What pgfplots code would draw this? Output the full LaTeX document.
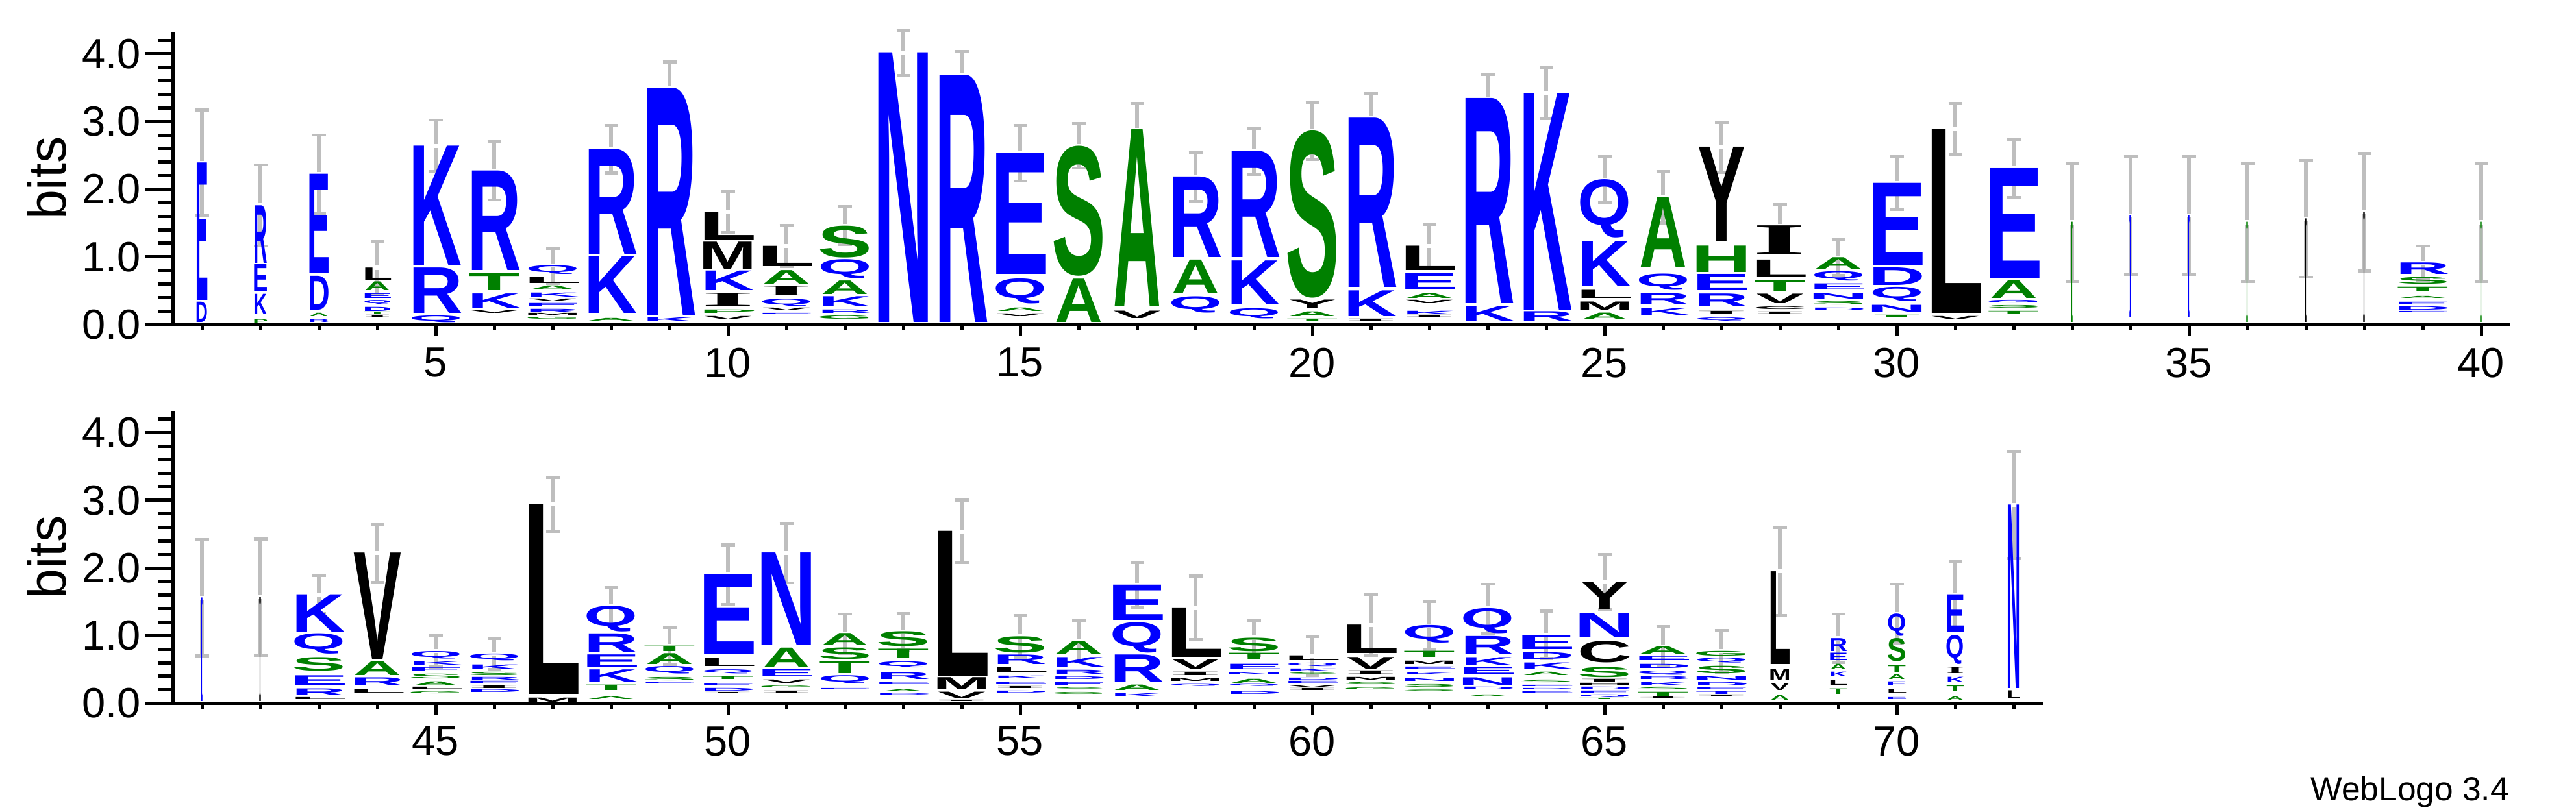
\documentclass[border=0pt]{standalone}
\usepackage{fontspec}
\setmainfont{Liberation Sans}
\newfontfamily\lf{Liberation Sans}
\newfontfamily\lfs{Liberation Serif}
\usepackage{graphicx}
\usepackage{pgfplots}
\usepackage{pgfplotstable}
\pgfplotsset{compat=1.18}
\definecolor{lblue}{RGB}{0,0,255}
\definecolor{lgreen}{RGB}{0,128,0}
\definecolor{lblack}{RGB}{0,0,0}
\definecolor{errgray}{RGB}{190,190,190}
\newdimen\bitunit \bitunit=20.86pt
\newdimen\lw
% width factor per letter (so that the ink, not the advance width, fills the column)
\def\lfA{0.90}\def\lfC{1.02}\def\lfD{1.07}\def\lfE{1.11}\def\lfG{1.05}\def\lfH{1.14}
\def\lfI{1.00}\def\lfK{1.00}\def\lfL{1.10}\def\lfM{1.08}\def\lfN{1.14}\def\lfP{1.10}
\def\lfQ{1.01}\def\lfR{1.02}\def\lfS{1.02}\def\lfT{0.97}\def\lfV{0.90}\def\lfY{0.90}
\def\splitmeta#1/#2/#3\relax{%
  \lw=\csname lf#1\endcsname\dimexpr #3pt\relax
  \resizebox*{\lw}{#2\bitunit}{\if I#1\lfs\else\lf\fi\bfseries #1}}
\newcommand\mkmeta[1]{\pgfplotstablecreatecol[create col/assign/.code={%
    \getthisrow{l}\ml \getthisrow{h}\mh \getthisrow{w}\mw
    \edef\entry{\ml/\mh/\mw}%
    \pgfkeyslet{/pgfplots/table/create col/next content}\entry}]{s}#1}

% x = position, y = bottom of letter (bits), h = letter height (bits), w = column width (pt), l = letter
\pgfplotstableread{
x y h w l
1 0.03 0.30 3.5 D
1 0.36 2.03 3.5 E
2 0.15 0.30 4.2 K
2 0.48 0.41 4.2 E
2 0.91 0.85 4.2 R
3 0.03 0.04 6.3 R
3 0.22 0.50 6.3 D
3 0.75 1.47 6.3 E
4 0.20 0.06 8.6 D
4 0.30 0.06 8.6 Q
4 0.39 0.07 8.6 E
5 0.03 0.10 16.4 Q
5 0.17 0.67 16.4 R
5 0.87 1.77 16.4 K
6 0.24 0.21 16.4 K
6 0.80 1.47 16.4 R
7 0.18 0.05 16.4 R
7 0.26 0.05 16.4 E
7 0.41 0.06 16.4 K
7 0.74 0.13 16.4 Q
8 0.17 0.84 16.4 K
8 1.04 1.55 16.4 R
9 0.04 0.06 16.4 K
9 0.14 3.35 16.4 R
10 0.50 0.29 16.4 K
11 0.13 0.02 16.4 E
11 0.27 0.11 16.4 Q
12 0.17 0.05 16.4 R
12 0.26 0.15 16.4 K
12 0.68 0.28 16.4 Q
13 0.03 3.98 16.4 N
14 0.03 3.65 16.4 R
15 0.31 0.37 16.4 Q
15 0.74 1.79 16.4 E
18 0.17 0.24 16.4 Q
18 0.99 1.19 16.4 R
19 0.09 0.15 16.4 Q
19 0.29 0.65 16.4 K
19 0.99 1.57 16.4 R
21 0.12 0.38 16.4 K
21 0.55 2.50 16.4 R
22 0.15 0.05 16.4 K
22 0.51 0.24 16.4 E
23 0.05 0.22 16.4 K
23 0.31 3.03 16.4 R
24 0.05 0.14 16.4 R
24 0.22 3.20 16.4 K
25 0.57 0.66 16.4 K
25 1.28 0.86 16.4 Q
26 0.14 0.10 16.4 K
26 0.29 0.17 16.4 R
26 0.51 0.24 16.4 Q
27 0.05 0.05 16.4 Q
27 0.26 0.19 16.4 R
27 0.50 0.24 16.4 E
29 0.20 0.04 16.4 D
29 0.38 0.08 16.4 N
29 0.51 0.09 16.4 E
29 0.65 0.14 16.4 Q
30 0.19 0.10 16.4 N
30 0.34 0.21 16.4 Q
30 0.58 0.26 16.4 D
30 0.87 1.22 16.4 E
32 0.32 0.04 16.4 G
32 0.68 1.63 16.4 E
34 0.10 1.51 0.6 I
35 0.10 1.51 0.6 I
39 0.16 0.02 16.4 E
39 0.22 0.05 16.4 D
39 0.29 0.04 16.4 E
39 0.74 0.17 16.4 R
41 0.03 1.53 0.6 I
43 0.12 0.10 16.4 R
43 0.27 0.14 16.4 E
43 0.73 0.30 16.4 Q
43 1.06 0.55 16.4 K
44 0.26 0.12 16.4 R
45 0.47 0.06 16.4 E
45 0.57 0.05 16.4 K
45 0.66 0.11 16.4 Q
46 0.16 0.04 16.4 D
46 0.28 0.04 16.4 E
46 0.34 0.04 16.4 R
46 0.50 0.07 16.4 K
46 0.63 0.10 16.4 Q
48 0.32 0.18 16.4 K
48 0.53 0.19 16.4 E
48 0.75 0.28 16.4 R
48 1.06 0.38 16.4 Q
49 0.27 0.02 16.4 E
49 0.44 0.11 16.4 Q
50 0.18 0.04 16.4 D
50 0.25 0.03 16.4 E
50 0.44 0.06 16.4 Q
50 0.72 1.18 16.4 E
51 0.39 0.11 16.4 E
51 0.85 1.37 16.4 N
52 0.19 0.02 16.4 E
52 0.29 0.12 16.4 Q
53 0.11 0.02 16.4 D
53 0.27 0.03 16.4 E
53 0.36 0.10 16.4 R
53 0.53 0.09 16.4 Q
55 0.15 0.03 16.4 D
55 0.27 0.03 16.4 E
55 0.36 0.04 16.4 K
55 0.58 0.14 16.4 R
56 0.26 0.05 16.4 E
56 0.35 0.04 16.4 D
56 0.43 0.06 16.4 R
56 0.54 0.14 16.4 K
57 0.10 0.05 16.4 K
57 0.32 0.40 16.4 R
57 0.75 0.45 16.4 Q
57 1.23 0.52 16.4 E
58 0.24 0.03 16.4 Q
59 0.13 0.04 16.4 D
59 0.24 0.03 16.4 Q
59 0.41 0.03 16.4 N
59 0.50 0.08 16.4 E
60 0.29 0.03 16.4 E
60 0.34 0.03 16.4 D
60 0.47 0.04 16.4 K
60 0.55 0.05 16.4 Q
62 0.32 0.04 16.4 N
62 0.41 0.03 16.4 K
62 0.50 0.03 16.4 E
62 0.89 0.26 16.4 Q
63 0.20 0.04 16.4 D
63 0.27 0.11 16.4 N
63 0.43 0.10 16.4 E
63 0.56 0.12 16.4 K
63 0.72 0.27 16.4 R
63 1.03 0.37 16.4 Q
64 0.14 0.02 16.4 E
64 0.19 0.02 16.4 D
64 0.24 0.02 16.4 E
64 0.51 0.09 16.4 K
64 0.65 0.10 16.4 D
64 0.80 0.21 16.4 E
65 0.08 0.04 16.4 Q
65 0.14 0.04 16.4 E
65 0.20 0.04 16.4 D
65 0.97 0.36 16.4 N
66 0.26 0.05 16.4 K
66 0.35 0.04 16.4 R
66 0.42 0.06 16.4 Q
66 0.52 0.06 16.4 D
66 0.63 0.06 16.4 E
67 0.13 0.04 16.4 T
67 0.19 0.03 16.4 E
67 0.26 0.05 16.4 D
67 0.35 0.05 16.4 N
67 0.60 0.07 16.4 Q
69 0.39 0.07 5.6 K
69 0.63 0.11 5.6 E
69 0.77 0.19 5.6 R
70 0.05 0.03 5.8 E
70 0.26 0.06 5.8 E
70 0.99 0.33 5.8 Q
71 0.31 0.08 5.6 K
71 0.58 0.43 5.6 Q
71 1.06 0.55 5.6 E
72 0.22 2.71 3.7 N
}\tblue

\pgfplotstableread{
x y h w l
2 0.02 0.05 4.2 P
3 0.12 0.05 6.3 A
4 0.15 0.03 8.6 T
4 0.50 0.13 8.6 A
6 0.50 0.25 16.4 T
7 0.07 0.03 16.4 G
7 0.51 0.06 16.4 A
8 0.05 0.04 16.4 A
10 0.17 0.05 16.4 P
11 0.60 0.20 16.4 A
12 0.08 0.05 16.4 G
12 0.45 0.20 16.4 A
12 0.99 0.47 16.4 S
15 0.20 0.05 16.4 A
16 0.03 0.64 16.4 A
16 0.72 1.92 16.4 S
17 0.26 2.62 16.4 A
18 0.46 0.50 16.4 A
20 0.04 0.04 16.4 T
20 0.12 0.07 16.4 A
20 0.39 2.47 16.4 S
22 0.39 0.07 16.4 A
25 0.07 0.10 16.4 A
26 0.84 1.04 16.4 A
27 0.77 0.39 16.4 H
28 0.48 0.17 16.4 T
29 0.29 0.05 16.4 S
29 0.82 0.17 16.4 A
30 0.10 0.04 16.4 I
32 0.15 0.04 16.4 T
32 0.24 0.04 16.4 S
32 0.39 0.26 16.4 A
33 0.03 1.48 0.6 I
36 0.03 1.48 0.6 I
39 0.38 0.03 16.4 A
39 0.48 0.07 16.4 T
39 0.60 0.10 16.4 S
40 0.03 1.48 0.6 I
43 0.48 0.20 16.4 S
44 0.41 0.21 16.4 A
45 0.14 0.03 16.4 G
45 0.26 0.06 16.4 A
45 0.36 0.07 16.4 S
46 0.41 0.05 16.4 S
48 0.05 0.04 16.4 A
48 0.19 0.08 16.4 T
49 0.34 0.05 16.4 S
49 0.58 0.16 16.4 A
49 0.77 0.08 16.4 T
50 0.35 0.04 16.4 T
51 0.22 0.03 16.4 G
51 0.53 0.29 16.4 A
52 0.44 0.18 16.4 T
52 0.65 0.17 16.4 S
52 0.85 0.18 16.4 A
53 0.16 0.03 16.4 A
53 0.67 0.13 16.4 T
53 0.84 0.22 16.4 S
55 0.75 0.24 16.4 S
56 0.13 0.03 16.4 G
56 0.19 0.03 16.4 S
56 0.73 0.19 16.4 A
57 0.19 0.08 16.4 A
59 0.30 0.06 16.4 A
59 0.65 0.09 16.4 T
59 0.77 0.20 16.4 S
60 0.41 0.03 16.4 S
61 0.19 0.03 16.4 G
61 0.27 0.03 16.4 S
62 0.17 0.03 16.4 S
62 0.24 0.04 16.4 S
62 0.68 0.09 16.4 T
63 0.09 0.03 16.4 A
64 0.30 0.04 16.4 S
64 0.41 0.05 16.4 A
65 0.04 0.02 16.4 T
65 0.38 0.15 16.4 S
66 0.11 0.06 16.4 T
66 0.20 0.04 16.4 S
66 0.73 0.11 16.4 A
67 0.44 0.11 16.4 S
67 0.70 0.07 16.4 G
68 0.05 0.07 6.3 A
69 0.14 0.08 5.6 T
69 0.50 0.08 5.6 A
70 0.36 0.07 5.8 A
70 0.46 0.10 5.8 T
70 0.62 0.34 5.8 S
71 0.05 0.05 5.6 A
71 0.17 0.09 5.6 T
}\tgreen

\pgfplotstableread{
x y h w l
4 0.10 0.03 8.6 I
4 0.66 0.18 8.6 L
6 0.16 0.04 16.4 V
7 0.13 0.03 16.4 M
7 0.34 0.04 16.4 V
7 0.61 0.09 16.4 L
10 0.07 0.05 16.4 V
10 0.27 0.19 16.4 I
10 0.82 0.40 16.4 M
10 1.25 0.41 16.4 L
11 0.20 0.04 16.4 V
11 0.43 0.14 16.4 I
11 0.86 0.30 16.4 L
15 0.12 0.04 16.4 V
17 0.09 0.11 16.4 V
20 0.24 0.12 16.4 Y
21 0.04 0.03 16.4 I
22 0.10 0.03 16.4 I
22 0.31 0.05 16.4 V
22 0.80 0.36 16.4 L
25 0.22 0.12 16.4 M
25 0.39 0.12 16.4 L
27 0.15 0.05 16.4 I
27 1.22 1.40 16.4 Y
28 0.15 0.03 16.4 I
28 0.22 0.04 16.4 C
28 0.31 0.14 16.4 V
28 0.70 0.26 16.4 L
28 1.03 0.43 16.4 I
31 0.07 0.05 16.4 V
31 0.17 2.72 16.4 L
37 0.03 1.53 0.6 I
38 0.03 1.63 0.6 I
42 0.03 1.54 0.6 I
43 0.05 0.03 16.4 L
44 0.15 0.05 16.4 L
44 0.65 1.57 16.4 V
45 0.20 0.03 16.4 L
46 0.22 0.04 16.4 I
47 0.02 0.06 16.4 M
47 0.14 2.80 16.4 L
50 0.13 0.02 16.4 I
50 0.55 0.12 16.4 L
51 0.15 0.03 16.4 I
51 0.30 0.05 16.4 V
54 0.02 0.02 16.4 I
54 0.07 0.10 16.4 V
54 0.20 0.18 16.4 M
54 0.39 2.15 16.4 L
55 0.21 0.03 16.4 I
55 0.46 0.07 16.4 L
58 0.32 0.04 16.4 M
58 0.41 0.05 16.4 I
58 0.51 0.14 16.4 V
58 0.68 0.73 16.4 L
60 0.18 0.03 16.4 I
60 0.22 0.03 16.4 V
60 0.63 0.07 16.4 L
61 0.34 0.04 16.4 M
61 0.43 0.05 16.4 I
61 0.51 0.17 16.4 V
61 0.74 0.42 16.4 L
62 0.58 0.05 16.4 M
65 0.26 0.04 16.4 H
65 0.31 0.05 16.4 I
65 0.60 0.32 16.4 C
65 1.38 0.41 16.4 Y
66 0.06 0.02 16.4 I
67 0.09 0.02 16.4 I
68 0.19 0.10 6.3 V
68 0.34 0.17 6.3 M
68 0.58 1.37 6.3 L
69 0.27 0.07 5.6 L
70 0.15 0.05 5.8 L
71 0.44 0.09 5.6 I
72 0.07 0.12 3.7 L
}\tblack

% x, stack height (bits), error (bits)
\pgfplotstableread{
x y e
1 2.39 0.78
2 1.76 0.60
3 2.22 0.58
4 0.84 0.39
5 2.64 0.38
6 2.27 0.43
7 0.87 0.26
8 2.59 0.35
9 3.49 0.39
10 1.66 0.30
11 1.16 0.30
12 1.46 0.28
13 4.01 0.33
14 3.68 0.35
15 2.53 0.41
16 2.64 0.33
17 2.88 0.39
18 2.18 0.36
19 2.56 0.34
20 2.86 0.42
21 3.05 0.37
22 1.16 0.32
23 3.34 0.36
24 3.42 0.38
25 2.14 0.34
26 1.88 0.38
27 2.62 0.37
28 1.46 0.32
29 0.99 0.26
30 2.09 0.39
31 2.89 0.38
32 2.31 0.43
33 1.51 0.87
34 1.61 0.87
35 1.61 0.87
36 1.51 0.87
37 1.56 0.86
38 1.66 0.87
39 0.91 0.25
40 1.51 0.87
41 1.56 0.86
42 1.57 0.86
43 1.61 0.28
44 2.22 0.43
45 0.77 0.23
46 0.73 0.23
47 2.94 0.40
48 1.44 0.27
49 0.85 0.27
50 1.90 0.44
51 2.22 0.44
52 1.03 0.29
53 1.06 0.27
54 2.54 0.46
55 0.99 0.31
56 0.92 0.31
57 1.75 0.33
58 1.41 0.47
59 0.97 0.26
60 0.70 0.29
61 1.16 0.45
62 1.15 0.36
63 1.40 0.36
64 1.01 0.35
65 1.79 0.41
66 0.84 0.29
67 0.77 0.31
68 1.95 0.65
69 0.96 0.36
70 1.32 0.44
71 1.61 0.49
72 2.93 0.79
}\terr

\mkmeta\tblue
\mkmeta\tgreen
\mkmeta\tblack

\pgfplotsset{
  logobase/.style={scale only axis, height=90.1pt, ymin=0, ymax=4.32, clip=false,
    /pgf/number format/assume math mode=true,
    tick label style={font=\fontsize{13}{15}\selectfont},
    tick style={black, line width=1pt},
    axis line style={black, line width=1pt, -}},
  yonly/.style={logobase, hide x axis, axis y line*=left, ytick pos=left, tick align=outside,
    ytick={0,1,2,3,4}, minor ytick={0.2,0.4,0.6,0.8,1.2,1.4,1.6,1.8,2.2,2.4,2.6,2.8,3.2,3.4,3.6,3.8,4.2},
    major tick length=8.6pt, minor tick length=4.6pt,
    yticklabel style={inner sep=1pt, /pgf/number format/fixed, /pgf/number format/fixed zerofill, /pgf/number format/precision=1},
    ylabel={bits},
    every axis y label/.style={at={(rel axis cs:0,0.5)}, xshift=-38.8pt, rotate=90, anchor=center, font=\fontsize{16.5}{18}\selectfont}},
  xonly/.style={logobase, hide y axis, axis x line*=bottom, xtick pos=left, tick align=outside,
    major tick length=3.6pt, minor tick length=1.6pt},
  letters/.style={draw=none, point meta=explicit symbolic,
    nodes near coords={\color{#1}\expandafter\splitmeta\pgfplotspointmeta\relax},
    every node near coord/.style={anchor=south, inner sep=0pt, outer sep=0pt}},
  errs/.style={draw=none, mark=none,
    error bars/.cd, y dir=#1, y explicit, error mark=-,
    error bar style={draw=errgray, line width=1.05pt},
    error mark options={draw=errgray, line width=0.95pt, mark size=2.1pt, rotate=90}}
}

\begin{document}
\begin{tikzpicture}[x=1pt,y=1pt]
\path[use as bounding box] (0,0) rectangle (793.4,250);

% ---------- top row: positions 1-40
\begin{axis}[yonly, at={(53.2pt,150pt)}, anchor=south west, width=720pt, xmin=0.5, xmax=40.5]
\end{axis}
\begin{axis}[xonly, at={(53.2pt,150pt)}, anchor=south west, width=720pt, xmin=0.5, xmax=40.5,
  xtick={5,10,...,40}, minor xtick={1,...,40}, restrict x to domain=0.5:40.5]
\addplot[letters=lblue] table[x=x, y=y, meta=s] {\tblue};
\addplot[letters=lgreen] table[x=x, y=y, meta=s] {\tgreen};
\addplot[letters=lblack] table[x=x, y=y, meta=s] {\tblack};
\addplot[errs=plus] table[x=x, y expr=\thisrow{y}+0.03, y error expr=\thisrow{e}-0.03] {\terr};
\addplot[errs=minus] table[x=x, y expr=\thisrow{y}-0.03, y error expr=\thisrow{e}-0.03] {\terr};
\end{axis}

% ---------- bottom row: positions 41-72
\begin{axis}[yonly, at={(53.2pt,33.28pt)}, anchor=south west, width=576pt, xmin=40.5, xmax=72.5]
\end{axis}
\begin{axis}[xonly, at={(53.2pt,33.28pt)}, anchor=south west, width=576pt, xmin=40.5, xmax=72.5,
  xtick={45,50,...,70}, minor xtick={41,...,72}, restrict x to domain=40.5:72.5]
\addplot[letters=lblue] table[x=x, y=y, meta=s] {\tblue};
\addplot[letters=lgreen] table[x=x, y=y, meta=s] {\tgreen};
\addplot[letters=lblack] table[x=x, y=y, meta=s] {\tblack};
\addplot[errs=plus] table[x=x, y expr=\thisrow{y}+0.03, y error expr=\thisrow{e}-0.03] {\terr};
\addplot[errs=minus] table[x=x, y expr=\thisrow{y}-0.03, y error expr=\thisrow{e}-0.03] {\terr};
\end{axis}

\node[anchor=base east, inner sep=0pt, font=\fontsize{10.3}{12}\selectfont] at (773,3.4) {WebLogo 3.4};
\end{tikzpicture}
\end{document}
